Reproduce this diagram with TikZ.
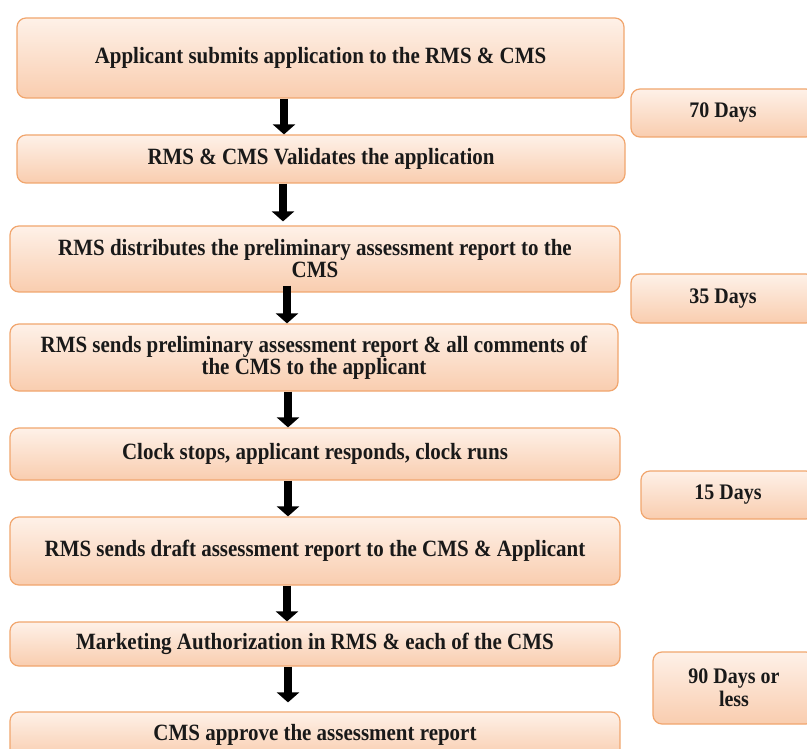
\documentclass[tikz,border=0pt]{standalone}
\usepackage{fontspec}
\setmainfont{Liberation Serif}[FakeStretch=0.9]
\usetikzlibrary{arrows.meta}
\definecolor{pTop}{HTML}{FEF1E8}
\definecolor{pBot}{HTML}{F9CDAF}
\definecolor{pLine}{HTML}{F1A66E}
\tikzset{
  stepbox/.style={draw=pLine, line width=1.2pt, rounded corners=9pt, top color=pTop, bottom color=pBot,
    font=\bfseries\fontsize{23.3}{22}\selectfont, align=center, inner sep=0pt, text=black!90},
  daybox/.style={stepbox, font=\bfseries\fontsize{22.2}{23}\selectfont},
  arr/.style={line width=8pt, -{Triangle[width=22pt,length=10pt]}, black}
}
\begin{document}
\begin{tikzpicture}[x=1pt,y=-1pt]
\useasboundingbox (0,0) rectangle (807,749);
\clip (0,0) rectangle (807,749);
\fill[white] (0,0) rectangle (807,749);
\node[stepbox, minimum width=607pt, minimum height=80pt] (b1) at (320.5,58) {Applicant submits application to the RMS \& CMS};
\node[stepbox, minimum width=608pt, minimum height=48pt] (b2) at (321,159) {RMS \& CMS Validates the application};
\node[stepbox, minimum width=610pt, minimum height=66pt] (b3) at (315,259) {RMS distributes the preliminary assessment report to the\\CMS};
\node[stepbox, minimum width=608pt, minimum height=67pt] (b4) at (314,357.5) {RMS sends preliminary assessment report \& all comments of\\the CMS to the applicant};
\node[stepbox, minimum width=610pt, minimum height=52pt] (b5) at (315,454) {Clock stops, applicant responds, clock runs};
\node[stepbox, minimum width=610pt, minimum height=68pt] (b6) at (315,551) {RMS sends draft assessment report to the CMS \& Applicant};
\node[stepbox, minimum width=610pt, minimum height=44pt] (b7) at (315,644) {Marketing Authorization in RMS \& each of the CMS};
\node[stepbox, minimum width=610pt, minimum height=46pt] (b8) at (315,735) {CMS approve the assessment report};
\node[daybox, minimum width=184pt, minimum height=48pt] (d1) at (723,113) {70 Days};
\node[daybox, minimum width=184pt, minimum height=49pt] (d2) at (723,298.5) {35 Days};
\node[daybox, minimum width=174pt, minimum height=48pt] (d3) at (728,495) {15 Days};
\node[daybox, minimum width=162pt, minimum height=72pt] (d4) at (734,688) {90 Days or\\less};
\coordinate (x1) at (284,0);
\coordinate (x2) at (283,0);
\coordinate (x3) at (287,0);
\coordinate (x4) at (288,0);
\draw[arr] (b1.south -| x1) -- (b2.north -| x1);
\draw[arr] (b2.south -| x2) -- ([yshift=4pt]b3.north -| x2);
\draw[arr] ([yshift=7pt]b3.south -| x3) -- (b4.north -| x3);
\draw[arr] (b4.south -| x4) -- (b5.north -| x4);
\draw[arr] (b5.south -| x4) -- (b6.north -| x4);
\draw[arr] (b6.south -| x3) -- (b7.north -| x3);
\draw[arr] (b7.south -| x4) -- ([yshift=9pt]b8.north -| x4);
\end{tikzpicture}
\end{document}
